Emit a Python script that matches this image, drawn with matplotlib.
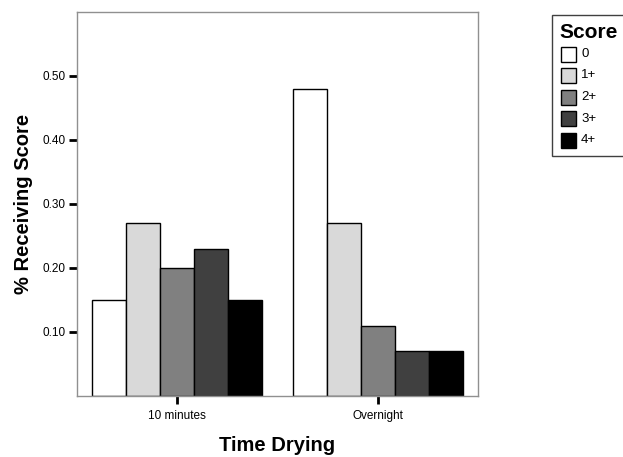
import numpy as np
import matplotlib
matplotlib.use("Agg")
from matplotlib import pyplot as plt
from matplotlib.patches import Rectangle

plt.rcParams['font.family'] = ['Liberation Sans', 'DejaVu Sans']

categories = ["10 minutes", "Overnight"]
scores = ["0", "1+", "2+", "3+", "4+"]
colors = ["#ffffff", "#d9d9d9", "#808080", "#404040", "#000000"]
# fraction receiving each score, per drying time
values = {
    "0": [0.15, 0.48],
    "1+": [0.27, 0.27],
    "2+": [0.20, 0.11],
    "3+": [0.23, 0.07],
    "4+": [0.15, 0.07],
}

fig = plt.figure(figsize=(6.23, 4.57), dpi=100)
ax = fig.add_axes([77 / 623, 61 / 457, 401 / 623, 384 / 457])

x = np.arange(len(categories))
w = 0.17
for i, s in enumerate(scores):
    ax.bar(x + (i - 2) * w, values[s], width=w, color=colors[i],
           edgecolor="black", linewidth=1.0, zorder=2)

ax.set_xlim(-0.5, 1.5)
ax.set_ylim(0, 0.6)
ax.set_xticks(x)
ax.set_xticklabels(categories, fontsize=8.5)
ax.set_yticks([0.1, 0.2, 0.3, 0.4, 0.5])
ax.set_yticklabels(["%.2f" % v for v in [0.1, 0.2, 0.3, 0.4, 0.5]], fontsize=8.5)
ax.tick_params(axis="both", direction="out", length=6, width=2, color="black", pad=2)
ax.tick_params(axis="x", pad=4)
for sp in ax.spines.values():
    sp.set_color("#909090")
    sp.set_linewidth(1.0)

ax.set_xlabel("Time Drying", fontsize=14.5, fontweight="bold", labelpad=10)
ax.set_ylabel("% Receiving Score", fontsize=14.5, fontweight="bold", labelpad=7)

# legend box, drawn by hand so it runs off the right edge like the original
W, H = 623, 457
fig.patches.append(Rectangle((552 / W, 1 - 156 / H), 90 / W, 141 / H,
                             transform=fig.transFigure, facecolor="white",
                             edgecolor="#404040", linewidth=1.0))
fig.text(559 / W, 1 - 33 / H, "Score", fontsize=15, fontweight="bold", va="center")
for i, s in enumerate(scores):
    yc = 54 + i * 21.5
    fig.patches.append(Rectangle((561 / W, 1 - (yc + 7.5) / H), 15 / W, 15 / H,
                                 transform=fig.transFigure, facecolor=colors[i],
                                 edgecolor="black", linewidth=1.0))
    fig.text(581 / W, 1 - yc / H, s, fontsize=9.5, va="center")

fig.savefig("out.png", dpi=100)
